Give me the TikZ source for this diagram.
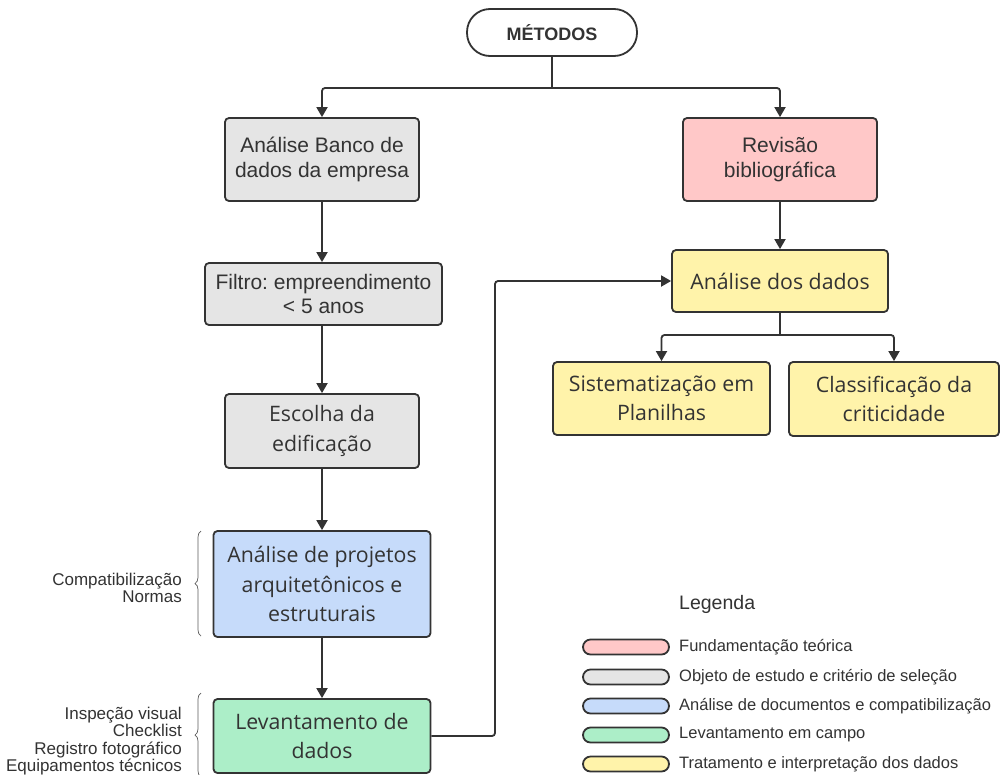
\documentclass[tikz,border=0pt]{standalone}
\usepackage{fontspec}
\setmainfont{Liberation Sans}
\newfontfamily\osf{Open Sans}
\usetikzlibrary{arrows.meta,decorations.pathreplacing}
\frenchspacing
\definecolor{ink}{HTML}{333333}
\definecolor{cgray}{HTML}{E5E5E5}
\definecolor{cpink}{HTML}{FFC8C8}
\definecolor{cblue}{HTML}{C6DBFA}
\definecolor{cgreen}{HTML}{ACEEC8}
\definecolor{cyel}{HTML}{FFF3AA}
\tikzset{
  box/.style={draw=ink, line width=1.8pt, rounded corners=4pt, align=center, text=ink, inner sep=2pt},
  arial/.style={font=\fontsize{21}{24.5}\selectfont},
  opens/.style={font=\osf\fontsize{21.3}{29.5}\selectfont},
  conn/.style={draw=ink, line width=1.8pt, rounded corners=3pt},
  arr/.style={conn, -{Triangle[width=11pt,length=10pt]}},
  swatch/.style={draw=ink, line width=1.8pt, fill=#1, rounded corners=7.5pt, minimum width=86pt, minimum height=15pt, inner sep=0pt},
  legtext/.style={anchor=west, text=ink, font=\fontsize{16.5}{18}\selectfont, inner sep=0pt},
  sidelab/.style={anchor=east, align=right, text=ink, inner sep=0pt, font=\fontsize{17}{17.5}\selectfont},
  bracestyle/.style={draw=ink!80, line width=0.7pt, decorate, decoration={brace, amplitude=6pt}}
}
\begin{document}
\begin{tikzpicture}[x=1pt,y=-1pt]
\useasboundingbox[fill=white] (0,0) rectangle (1000,774);
% nodes
\node[box, minimum width=170pt, minimum height=47pt, rounded corners=23pt, font=\bfseries\fontsize{18}{20}\selectfont] (metodos) at (552,32.5) {MÉTODOS};
\node[box, arial, fill=cgray, minimum width=194pt, minimum height=83pt] (banco) at (322,159.5) {Análise Banco de\\dados da empresa};
\node[box, arial, fill=cpink, minimum width=194pt, minimum height=83pt] (revisao) at (780,159.5) {Revisão\\bibliográfica};
\node[box, arial, fill=cgray, minimum width=237pt, minimum height=62pt] (filtro) at (323.5,294) {Filtro: empreendimento\\< 5 anos};
\node[box, opens, fill=cgray, minimum width=194pt, minimum height=74pt] (escolha) at (322,431) {Escolha da\\edificação};
\node[box, opens, fill=cblue, minimum width=217pt, minimum height=106pt] (projetos) at (322,584) {Análise de projetos\\arquitetônicos e\\estruturais};
\node[box, opens, fill=cgreen, minimum width=217pt, minimum height=74pt] (levant) at (322,736) {Levantamento de\\dados};
\node[box, opens, fill=cyel, minimum width=216pt, minimum height=62pt] (dados) at (780,281) {Análise dos dados};
\node[box, opens, fill=cyel, minimum width=217pt, minimum height=73pt] (sistem) at (661.5,398.5) {Sistematização em\\Planilhas};
\node[box, opens, fill=cyel, minimum width=210pt, minimum height=74pt] (classif) at (894,399) {Classificação da\\criticidade};
% connectors
\coordinate (j1) at (552,88);
\draw[conn] (metodos.south) -- (j1);
\draw[arr] (j1) -| (banco.north);
\draw[arr] (j1) -| (revisao.north);
\draw[arr] (banco.south) -- (banco.south |- filtro.north);
\draw[arr] (filtro.south -| escolha.north) -- (escolha.north);
\draw[arr] (escolha.south) -- (escolha.south |- projetos.north);
\draw[arr] (projetos.south) -- (levant.north);
\draw[arr] (revisao.south) -- (dados.north);
\coordinate (c1) at (495,736);
\draw[arr] (levant.east) -- (c1) |- (dados.west);
\coordinate (j2) at (780,335);
\draw[conn] (dados.south) -- (j2);
\draw[arr] (j2) -| (sistem.north);
\draw[arr] (j2) -| (classif.north);
% side labels and braces
\node[sidelab] (lab1) at (182,588) {Compatibilização\\Normas};
\node[sidelab] (lab2) at (182,741) {Inspeção visual\\Checklist\\Registro fotográfico\\Equipamentos técnicos};
\coordinate (b1a) at (201,636);
\coordinate (b1b) at (201,531);
\draw[bracestyle] (b1a) -- (b1b);
\coordinate (b2a) at (201,777);
\coordinate (b2b) at (201,693);
\draw[bracestyle] (b2a) -- (b2b);
% legend
\node[anchor=west, text=ink, inner sep=0pt, font=\fontsize{19.5}{21}\selectfont] (legenda) at (679,604) {Legenda};
\node[swatch=cpink] (s1) at (626,647) {};
\node[swatch=cgray] (s2) at (626,677) {};
\node[swatch=cblue] (s3) at (626,706) {};
\node[swatch=cgreen] (s4) at (626,735) {};
\node[swatch=cyel] (s5) at (626,764) {};
\node[legtext] (t1) at (679,647) {Fundamentação teórica};
\node[legtext] (t2) at (679,677) {Objeto de estudo e critério de seleção};
\node[legtext] (t3) at (679,706) {Análise de documentos e compatibilização};
\node[legtext] (t4) at (679,735) {Levantamento em campo};
\node[legtext] (t5) at (679,764) {Tratamento e interpretação dos dados};
\end{tikzpicture}
\end{document}
